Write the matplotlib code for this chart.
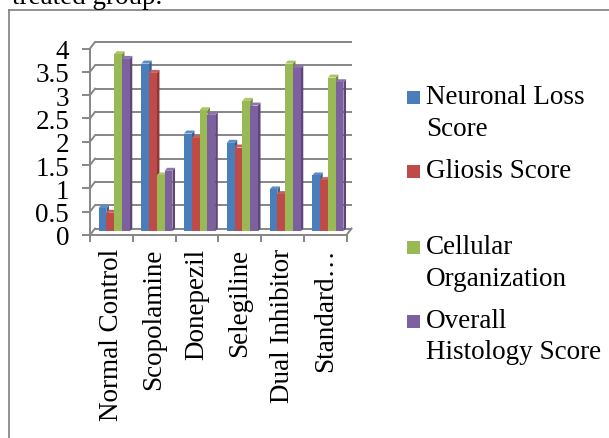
import matplotlib.pyplot as plt
from matplotlib.patches import Polygon, Rectangle
from matplotlib.lines import Line2D

plt.rcParams['font.family'] = ['Liberation Serif', 'DejaVu Serif']

groups = ["Normal Control", "Scopolamine", "Donepezil", "Selegiline",
          "Dual Inhibitor", "Standard\u2026"]
neuronal_loss = [0.5, 3.6, 2.1, 1.9, 0.9, 1.2]
gliosis = [0.4, 3.4, 2.0, 1.8, 0.8, 1.1]
cellular_org = [3.8, 1.2, 2.6, 2.8, 3.6, 3.3]
overall_histology = [3.7, 1.3, 2.5, 2.7, 3.5, 3.2]

series_names = [["Neuronal Loss", "Score"], ["Gliosis Score"],
                ["Cellular", "Organization"], ["Overall", "Histology Score"]]
series_values = [neuronal_loss, gliosis, cellular_org, overall_histology]
yticks = [0, 0.5, 1, 1.5, 2, 2.5, 3, 3.5, 4]
ytick_labels = ["0", "0.5", "1", "1.5", "2", "2.5", "3", "3.5", "4"]

# front / side / top shades for the pseudo-3D columns
front_colors = ["#4a7ebb", "#be4b48", "#98b954", "#7d60a0"]
side_colors = ["#375e8c", "#8e3836", "#71893f", "#5d4778"]
top_colors = ["#5b8dc9", "#cc5e5b", "#a8c767", "#8e73b0"]
grid_color = "#868686"
FS = 19.5

W, H = 609, 439
fig = plt.figure(figsize=(W / 100, H / 100), dpi=100)

# plot area (front plane of the 3D box), pixel based placement
x0_px, x1_px = 90, 346.5
y0_px, y4_px = 236, 49.5
ax = fig.add_axes([x0_px / W, 1 - y0_px / H, (x1_px - x0_px) / W,
                   (y0_px - y4_px) / H])
ax.set_xlim(-0.5, len(groups) - 0.5)
ax.set_ylim(0, 4)

px_x = (x1_px - x0_px) / len(groups)   # pixels per category
px_y = (y0_px - y4_px) / 4             # pixels per unit

# depth of the box (back wall offset) and of the columns
DX, DY = 5 / px_x, 6.5 / px_y
BX, BY = 0.55 * DX, 0.55 * DY
BDX, BDY = 2.6 / px_x, 3.0 / px_y

left, right = -0.5, len(groups) - 0.5
for v in yticks:
    # back wall gridline and the diagonal on the side wall
    ax.plot([left + DX, right + DX], [v + DY, v + DY], color=grid_color,
            lw=1.4, zorder=1, clip_on=False, solid_capstyle='butt')
    ax.plot([left, left + DX], [v, v + DY], color=grid_color, lw=1.4,
            zorder=1, clip_on=False)
# right edge of the floor
ax.plot([right, right + DX], [0, DY], color=grid_color, lw=1.4, zorder=1,
        clip_on=False)

# columns: sides and tops first, front faces on top of them
n = len(series_values)
w = 1 / (n + 1.5)
for i in range(len(groups)):
    for k, vals in enumerate(series_values):
        xl = i - n * w / 2 + k * w + BX
        v = vals[i]
        side = Polygon([(xl + w, BY), (xl + w, v + BY),
                        (xl + w + BDX, v + BY + BDY), (xl + w + BDX, BY + BDY)],
                       closed=True, facecolor=side_colors[k], edgecolor='none',
                       zorder=2, clip_on=False)
        top = Polygon([(xl, v + BY), (xl + w, v + BY),
                       (xl + w + BDX, v + BY + BDY), (xl + BDX, v + BY + BDY)],
                      closed=True, facecolor=top_colors[k], edgecolor='none',
                      zorder=2, clip_on=False)
        ax.add_patch(side)
        ax.add_patch(top)
for k, vals in enumerate(series_values):
    xs = [i - n * w / 2 + k * w + BX for i in range(len(groups))]
    ax.bar(xs, vals, width=w, bottom=BY, align='edge',
           color=front_colors[k], zorder=3, clip_on=False)

# axes styling
for s in ['top', 'right']:
    ax.spines[s].set_visible(False)
for s in ['left', 'bottom']:
    ax.spines[s].set_color(grid_color)
    ax.spines[s].set_linewidth(1.4)
    ax.spines[s].set_zorder(1)
ax.set_yticks(yticks, ytick_labels, fontsize=FS)
ax.tick_params(axis='y', length=6, width=1.4, color=grid_color, pad=9,
               labelcolor='black')
ax.set_xticks([x - 0.5 for x in range(len(groups) + 1)], [""] * (len(groups) + 1))
ax.set_xticks(range(len(groups)), groups, minor=True, rotation=90, fontsize=FS)
ax.tick_params(axis='x', which='major', length=5, width=1.4, color=grid_color)
ax.tick_params(axis='x', which='minor', length=0, pad=9)
ax.patch.set_visible(False)

# legend drawn in figure pixels, one text per line
legend_rows = [98, 172, 248, 322]
line_step = 31
for k, lines in enumerate(series_names):
    yc = legend_rows[k]
    fig.add_artist(Rectangle((407 / W, 1 - (yc + 6.5) / H), 13 / W, 13 / H,
                             transform=fig.transFigure,
                             facecolor=front_colors[k], edgecolor='none'))
    for j, txt in enumerate(lines):
        fig.text(426 / W, 1 - (yc + j * line_step) / H, txt, fontsize=FS,
                 va='center', ha='left')

# frame around the chart and the caption line above it
fig.add_artist(Line2D([9 / W, 9 / W], [0, 1 - 10.5 / H], color="#7f7f7f",
                      lw=1.2, transform=fig.transFigure))
fig.add_artist(Line2D([9 / W, 1], [1 - 10.5 / H, 1 - 10.5 / H],
                      color="#7f7f7f", lw=1.2, transform=fig.transFigure))
fig.text(12 / W, 1 - 4 / H, "treated group.", fontsize=FS, va='baseline',
         ha='left')

fig.savefig("out.png", dpi=100, facecolor='white')
